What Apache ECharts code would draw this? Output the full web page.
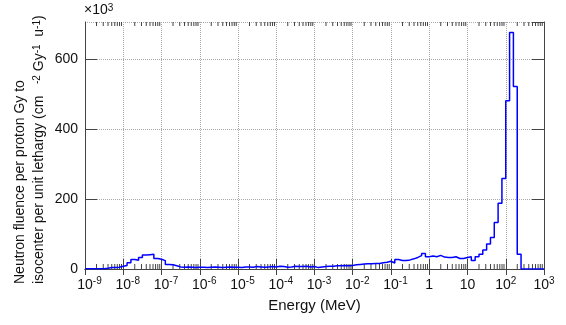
<!DOCTYPE html>
<html>
<head>
<meta charset="utf-8">
<script src="https://cdn.jsdelivr.net/npm/echarts@6/dist/echarts.min.js"></script>
<style>
  html, body { margin: 0; padding: 0; background: #fff; }
  #chart { width: 566px; height: 325px; }
</style>
</head>
<body>
<div id="chart"></div>
<script>
// histogram binning: 10 log bins per decade, 1e-9 .. 1e3 MeV
const binsPerDecade = 10
const energyMinExp = -9
const energyMaxExp = 3

// neutron fluence per bin (x10^3), one row per decade
const fluence = [
  1, 1, 1, 1, 1, 2, 4, 4, 5, 8,            // 1e-9
  10, 18, 27, 25, 33, 40, 41, 42, 30, 28,  // 1e-8
  24, 13, 12, 9, 6, 5, 6, 5, 4, 5,         // 1e-7
  5, 4, 5, 6, 5, 4, 5, 6, 5, 5,            // 1e-6
  4, 6, 6, 5, 7, 6, 5, 6, 7, 6,            // 1e-5
  8, 7, 5, 6, 8, 7, 7, 8, 6, 7,            // 1e-4
  4, 6, 7, 8, 8, 9, 9, 10, 9, 10,          // 1e-3
  12, 13, 14, 15, 15, 16, 16, 18, 19, 22,  // 1e-2
  17, 27, 24, 24, 26, 29, 33, 38, 44, 35,  // 1e-1
  37, 35, 39, 34, 33, 33, 35, 30, 30, 33,  // 1
  35, 24, 35, 42, 54, 71, 90, 133, 188, 258, // 10
  480, 675, 521, 42, 0, 0, 0, 0, 0, 0      // 100
]

const yTicks = [0, 200, 400, 600]
const yMax = 705

const font = 'Liberation Sans, Arial, Helvetica, sans-serif'
const frameColor = '#444'
const gridColor = '#aaa'

// step points at bin edges
const stepData = fluence.map((v, i) => [Math.pow(10, energyMinExp + i / binsPerDecade), v])
stepData.push([Math.pow(10, energyMaxExp), fluence[fluence.length - 1]])

// minor ticks at 2..9 x 10^n
const minorTicks = []
for (let d = energyMinExp; d < energyMaxExp; d++) {
  for (let m = 2; m <= 9; m++) minorTicks.push([m * Math.pow(10, d), 0])
}

const supRich = {
  b: { fontSize: 14, fontFamily: font, color: '#111', lineHeight: 18 },
  s: { fontSize: 10, fontFamily: font, color: '#111', verticalAlign: 'top', lineHeight: 10 },
  p: { width: 9 }
}

// keep the "10" centred on the tick, exponent hangs to the right
const xLabel = (val) => {
  const e = Math.round(Math.log10(val))
  if (e === 0) return '{b|1}'
  if (e === 1) return '{b|10}'
  return (e < 0 ? '{p|}' : '') + '{b|10}{s|' + e + '}'
}

const xAxisBase = {
  type: 'log',
  logBase: 10,
  min: Math.pow(10, energyMinExp),
  max: Math.pow(10, energyMaxExp),
  interval: 1,
  splitNumber: 12,
  axisLine: { show: true, lineStyle: { color: frameColor, width: 1 } },
  axisTick: { show: true, inside: true, length: 10, lineStyle: { color: frameColor } },
  minorTick: { show: false },
}

const chart = echarts.init(document.getElementById('chart'))

chart.setOption({
  animation: false,
  grid: { left: 85, right: 22, top: 22, bottom: 56, outerBoundsMode: 'none' },
  xAxis: [
    {
      ...xAxisBase,
      position: 'bottom',
      name: 'Energy (MeV)',
      nameLocation: 'middle',
      nameGap: 29,
      nameTextStyle: { fontSize: 15, fontFamily: font, color: '#111' },
      axisLabel: { formatter: xLabel, rich: supRich, margin: 7, hideOverlap: false },
      splitLine: { show: true, lineStyle: { color: gridColor, type: 'dotted', width: 1 } },
    },
    {
      ...xAxisBase,
      position: 'top',
      axisTick: { show: true, inside: true, length: 6, lineStyle: { color: frameColor } },
      axisLabel: { show: false },
      splitLine: { show: false },
    }
  ],
  yAxis: [
    {
      type: 'value',
      min: 0,
      max: yMax,
      interval: 200,
      axisLine: { show: true, lineStyle: { color: frameColor, width: 1 } },
      axisTick: { show: true, inside: true, length: 12, lineStyle: { color: frameColor } },
      axisLabel: {
        fontSize: 14, fontFamily: font, color: '#111', margin: 7,
        formatter: (v) => (yTicks.includes(v) ? String(v) : ''),
        showMaxLabel: false,
      },
      splitLine: { show: true, lineStyle: { color: gridColor, type: 'dotted', width: 1 } },
    },
    {
      type: 'value',
      position: 'right',
      min: 0,
      max: yMax,
      interval: 200,
      axisLine: { show: true, lineStyle: { color: frameColor, width: 1 } },
      axisTick: { show: true, inside: true, length: 12, lineStyle: { color: frameColor } },
      axisLabel: { show: false },
      splitLine: { show: false },
    }
  ],
  graphic: [
    {
      type: 'text', x: 84, y: 3,
      style: {
        text: '×10{s|3}', fontSize: 14, fontFamily: font, fill: '#111',
        rich: supRich,
      }
    },
    {
      type: 'text', x: 20, y: 284, rotation: Math.PI / 2,
      style: {
        text: 'Neutron fluence per proton Gy to',
        fontSize: 14, fontFamily: font, fill: '#111',
        align: 'left', verticalAlign: 'middle', textAlign: 'left', textVerticalAlign: 'middle',
      }
    },
    {
      type: 'text', x: 39, y: 284, rotation: Math.PI / 2,
      style: {
        text: 'isocenter per unit lethargy (cm   {s|-2} Gy{s|-1}  u{s|-1})',
        fontSize: 14, fontFamily: font, fill: '#111',
        align: 'left', verticalAlign: 'middle', textAlign: 'left', textVerticalAlign: 'middle',
        rich: supRich,
      }
    }
  ],
  series: [
    {
      type: 'line',
      step: 'end',
      data: stepData,
      showSymbol: false,
      lineStyle: { color: '#0000ff', width: 1.5 },
      itemStyle: { color: '#0000ff' },
      z: 5,
    },
    {
      type: 'custom',
      data: minorTicks,
      silent: true,
      renderItem: (params, api) => {
        const x = api.value(0)
        const b = api.coord([x, 0])
        const t = api.coord([x, yMax])
        const style = { stroke: frameColor, lineWidth: 1 }
        return {
          type: 'group',
          children: [
            { type: 'line', shape: { x1: b[0], y1: b[1], x2: b[0], y2: b[1] - 5 }, style },
            { type: 'line', shape: { x1: t[0], y1: t[1], x2: t[0], y2: t[1] + 4 }, style },
          ]
        }
      }
    }
  ]
})

window.addEventListener('resize', () => chart.resize())
</script>
</body>
</html>
